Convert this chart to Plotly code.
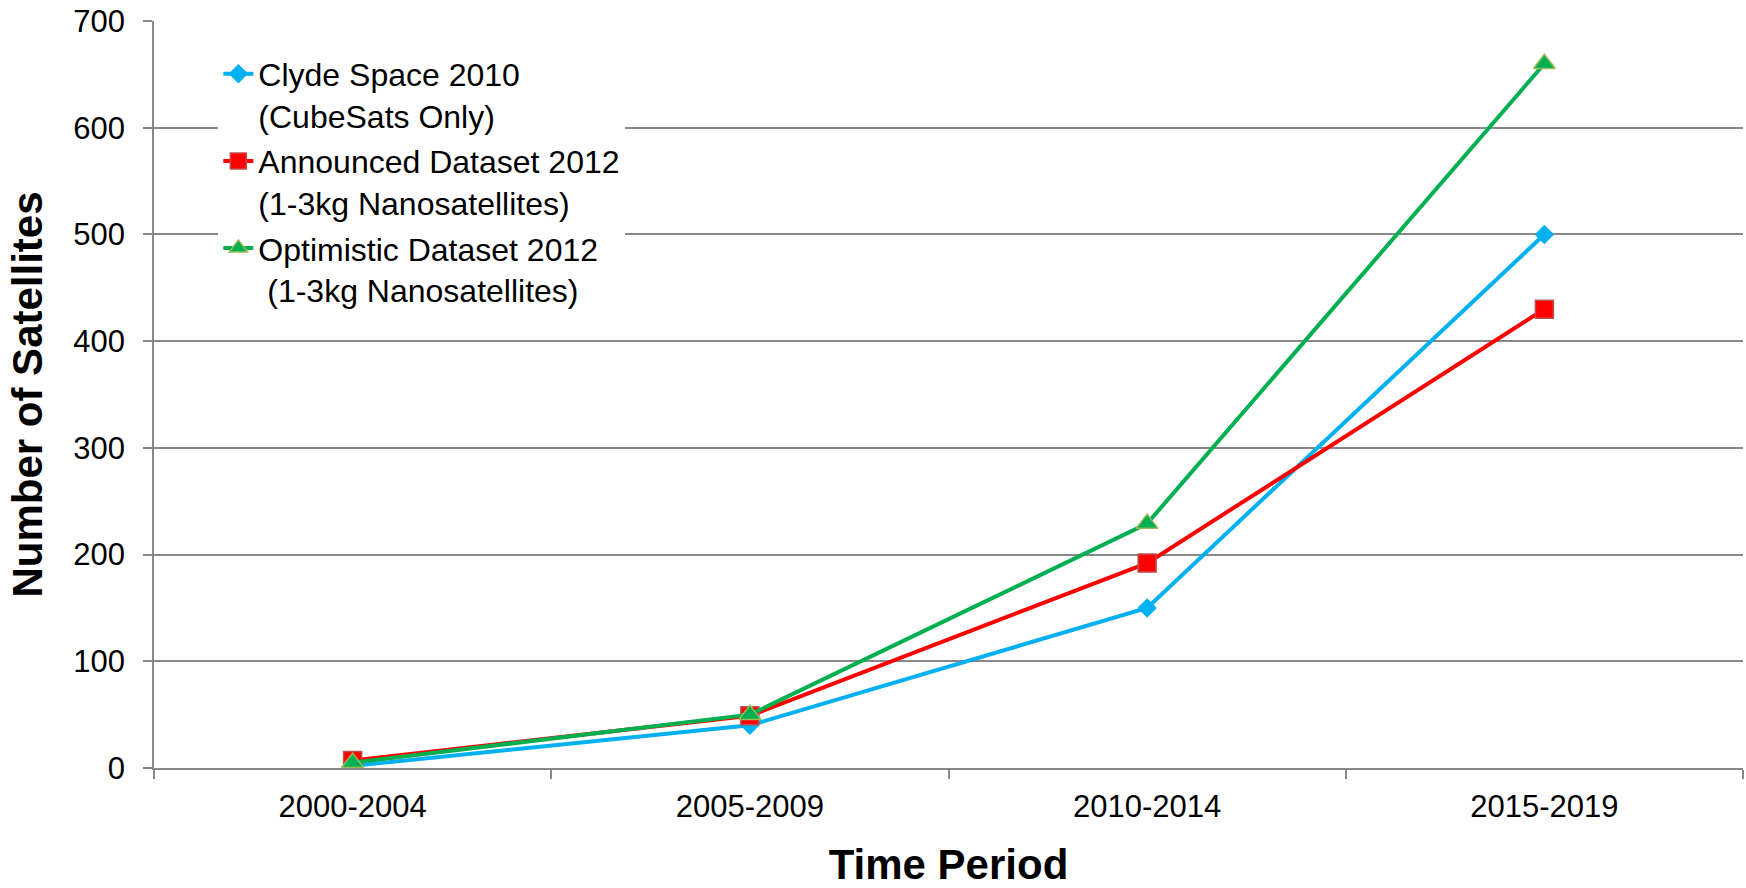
import plotly.graph_objects as go

periods = ["2000-2004", "2005-2009", "2010-2014", "2015-2019"]
clyde = [2, 40, 150, 500]
announced = [7, 49, 192, 430]
optimistic = [5, 50, 229, 660]
series_names = [
    "Clyde Space 2010<br>(CubeSats Only)",
    "Announced Dataset 2012<br>(1-3kg Nanosatellites)",
    "Optimistic Dataset 2012<br>\u00a0(1-3kg Nanosatellites)",
]
y_ticks = [0, 100, 200, 300, 400, 500, 600, 700]

FONT = "Liberation Sans, Arial, sans-serif"

fig = go.Figure()
fig.add_trace(go.Scatter(
    x=periods, y=clyde, name=series_names[0], mode="lines+markers", legendgroup="a",
    line=dict(color="#00B0F0", width=4),
    marker=dict(symbol="diamond", size=15, color="#00B0F0", line=dict(width=0)),
))
fig.add_trace(go.Scatter(
    x=periods, y=announced, name=series_names[1], mode="lines+markers", legendgroup="b",
    line=dict(color="#FF0000", width=4),
    marker=dict(symbol="square", size=18, color="#FF0000", line=dict(color="#C0504D", width=1.5)),
))
fig.add_trace(go.Scatter(
    x=periods, y=optimistic, name=series_names[2], mode="lines+markers", legendgroup="c",
    line=dict(color="#00B050", width=4),
    marker=dict(symbol="triangle-up", size=19, color="#00B050", line=dict(color="#9BBB59", width=1.5)),
))

fig.update_layout(
    width=1746, height=888,
    margin=dict(l=154, r=3, t=21, b=120),
    paper_bgcolor="white", plot_bgcolor="white",
    font=dict(family=FONT, color="black", size=31),
    showlegend=True,
    legend=dict(
        x=0.0405, y=0.966, xanchor="left", yanchor="top",
        bgcolor="white", borderwidth=0,
        font=dict(family=FONT, size=32, color="black"),
        valign="top", itemwidth=30, tracegroupgap=1,
    ),
    xaxis=dict(
        type="category", range=[-0.5, 3.5], automargin=False,
        showgrid=False, zeroline=False,
        showline=True, linecolor="#888888", linewidth=1.5,
        ticks="outside", tickson="boundaries", ticklen=9, tickcolor="#888888", tickwidth=1.5,
        tickfont=dict(family=FONT, size=31, color="black"),
        ticklabelstandoff=10, ticklabeloverflow="allow",
        title=dict(text="<b>Time Period</b>", font=dict(family=FONT, size=42, color="black"), standoff=27),
    ),
    yaxis=dict(
        range=[0, 700], tickvals=y_ticks, automargin=True,
        showgrid=True, gridcolor="#888888", gridwidth=1.5,
        zeroline=False,
        showline=True, linecolor="#888888", linewidth=1.5,
        ticks="outside", ticklen=9, tickcolor="#888888", tickwidth=1.5,
        tickfont=dict(family=FONT, size=31, color="black"),
        ticklabelstandoff=12, ticklabeloverflow="allow",
        title=dict(text="<b>Number of Satellites</b>", font=dict(family=FONT, size=42, color="black"), standoff=18),
    ),
)

fig.write_html(
    "out.html",
    config={"displayModeBar": False},
    post_script="document.body.style.margin='0';document.body.style.overflow='hidden';",
)
